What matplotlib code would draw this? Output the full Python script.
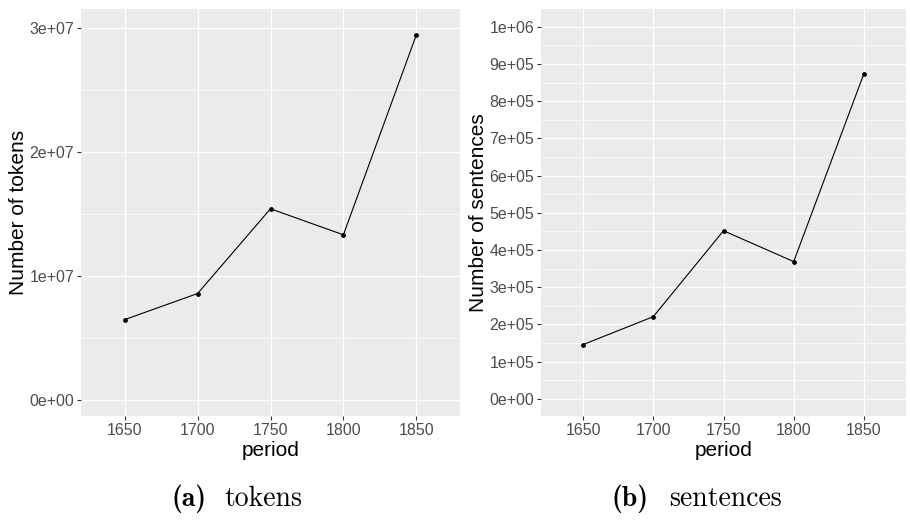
import matplotlib
matplotlib.use("agg")
import matplotlib.pyplot as plt
import numpy as np

plt.rcParams["font.family"] = ["Liberation Sans", "DejaVu Sans"]

# Data
periods = ["1650", "1700", "1750", "1800", "1850"]
tokens = [6.47e6, 8.57e6, 1.54e7, 1.33e7, 2.94e7]
sentences = [1.46e5, 2.21e5, 4.52e5, 3.69e5, 8.74e5]

token_ticks = [0, 1e7, 2e7, 3e7]
token_labels = ["0e+00", "1e+07", "2e+07", "3e+07"]
sent_ticks = [i * 1e5 for i in range(11)]
sent_labels = ["0e+00", "1e+05", "2e+05", "3e+05", "4e+05", "5e+05",
               "6e+05", "7e+05", "8e+05", "9e+05", "1e+06"]

fig = plt.figure(figsize=(9.1, 5.2), dpi=100)
ax1 = fig.add_axes([81 / 910, 0.2, 379 / 910, 0.9827 - 0.2])
ax2 = fig.add_axes([541 / 910, 0.2, 365 / 910, 0.9827 - 0.2])


def gg_panel(ax, values, ticks, labels, ylim, ylabel):
    x = np.arange(len(periods))
    ax.set_facecolor("#EBEBEB")
    ax.plot(x, values, color="black", lw=0.8, zorder=3)
    ax.scatter(x, values, color="black", s=6, zorder=4)
    ax.set_xlim(-0.6, len(periods) - 0.4)
    ax.set_ylim(*ylim)
    ax.set_xticks(x)
    ax.set_xticklabels(periods)
    ax.set_yticks(ticks)
    ax.set_yticklabels(labels)
    # minor gridlines halfway between majors
    minors = [(a + b) / 2 for a, b in zip(ticks[:-1], ticks[1:])]
    ax.set_yticks(minors, minor=True)
    ax.grid(which="major", color="white", lw=1.0)
    ax.grid(which="minor", axis="y", color="white", lw=0.5)
    ax.set_axisbelow(True)
    for s in ax.spines.values():
        s.set_visible(False)
    ax.tick_params(which="major", colors="#333333", length=3, width=0.8,
                   labelsize=11.5, labelcolor="#4D4D4D", pad=2)
    ax.tick_params(which="minor", length=0)
    ax.set_xlabel("period", fontsize=15, labelpad=2)
    ax.set_ylabel(ylabel, fontsize=15, labelpad=1)


gg_panel(ax1, tokens, token_ticks, token_labels, (-1.3e6, 3.15e7), "Number of tokens")
gg_panel(ax2, sentences, sent_ticks, sent_labels, (-4.6e4, 1.048e6), "Number of sentences")

# sub-captions
cap_y = 1 - 499 / 520
fig.text(171 / 910, cap_y, "(a)", fontfamily="cmb10", fontsize=20,
         ha="left", va="center")
fig.text(302 / 910, cap_y, "tokens", fontfamily="cmr10", fontsize=20,
         ha="right", va="center")
fig.text(612 / 910, cap_y, "(b)", fontfamily="cmb10", fontsize=20,
         ha="left", va="center")
fig.text(782 / 910, cap_y, "sentences", fontfamily="cmr10", fontsize=20,
         ha="right", va="center")

plt.savefig("out.png", dpi=100)
